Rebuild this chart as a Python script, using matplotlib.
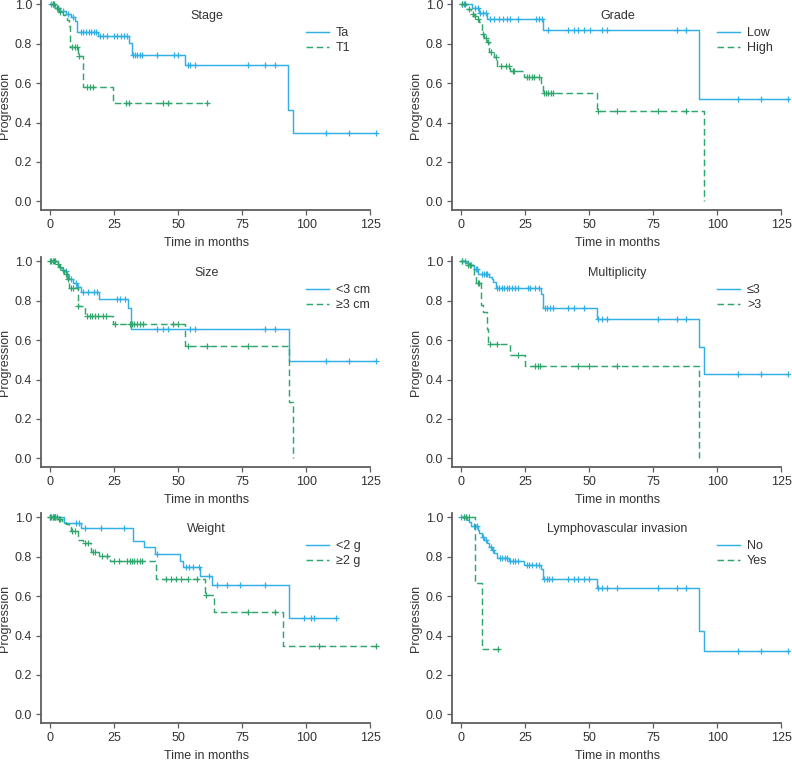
import numpy as np
import matplotlib
matplotlib.use('Agg')
import matplotlib.pyplot as plt
from matplotlib.lines import Line2D

plt.rcParams['font.family'] = ['Liberation Sans', 'DejaVu Sans']

# Kaplan-Meier style curves: event times, level after each event, censor times, last follow-up
stage_ta_t = [2, 4, 6, 8, 9.5, 10.5, 18.8, 30.6, 31.8, 52.8, 93, 95]
stage_ta_s = [0.98, 0.965, 0.95, 0.935, 0.915, 0.86, 0.84, 0.805, 0.745, 0.692, 0.462, 0.347]
stage_ta_c = [0.5, 1, 3, 5, 7, 9, 12, 13, 14, 15, 16, 17, 18, 19.5, 20.5, 22, 25, 26, 27.5,
              29, 30, 32.5, 33, 34, 35, 36, 41.7, 48.2, 50.1, 53.8, 54.7, 56.6, 77.1, 84, 88,
              107.8, 116.9, 127.3]
stage_ta_end = 127.3

stage_t1_t = [2, 3.5, 5, 6.5, 7.2, 7.8, 11, 13, 24.7]
stage_t1_s = [0.98, 0.96, 0.945, 0.92, 0.89, 0.785, 0.738, 0.58, 0.50]
stage_t1_c = [1, 1.5, 2.5, 3, 4, 8.5, 9.5, 10.5, 11.2, 14.3, 15.6, 16.7, 29.7, 30.7, 44, 46, 61.3]
stage_t1_end = 61.5

grade_low_t = [4.3, 7, 10, 32.1, 92.8]
grade_low_s = [0.98, 0.954, 0.926, 0.868, 0.521]
grade_low_c = [0.5, 1, 5.5, 6.5, 7.5, 8.5, 9.5, 11.3, 13, 14.9, 16.5, 17.9, 19.2, 22.1, 29.2,
               30.2, 31.4, 33.9, 41.9, 43.9, 45.8, 48, 50.2, 54.9, 57.1, 84.1, 88, 108, 117, 127.6]
grade_low_end = 127.6

grade_high_t = [2, 4, 5, 6, 7, 8, 9, 10, 11, 13, 14, 19, 24.7, 31.2, 31.8, 53, 94.8]
grade_high_s = [0.975, 0.95, 0.94, 0.925, 0.91, 0.848, 0.83, 0.81, 0.756, 0.734, 0.689, 0.663,
                0.631, 0.592, 0.548, 0.457, 0.0]
grade_high_c = [0.5, 1.5, 3, 4.5, 5.5, 6.5, 8.5, 9.5, 10.5, 11.5, 13.5, 15.6, 17.5, 18.6, 20.1,
                20.8, 25.7, 26.6, 27.6, 28.6, 30.5, 32.3, 33, 34, 35, 35.7, 53.6, 61, 77, 87.9]
grade_high_end = 94.8

size_small_t = [3, 4, 5, 6.5, 7.5, 9, 10.5, 12, 18.9, 30.3, 31.6, 93.1]
size_small_s = [0.98, 0.965, 0.95, 0.93, 0.91, 0.892, 0.87, 0.843, 0.811, 0.764, 0.655, 0.493]
size_small_c = [6, 8, 10, 11, 13, 14.6, 17, 18.2, 26, 27.3, 29.3, 41.9, 44, 46, 54.7, 56.6, 84,
                88, 107.8, 116.9, 127.3]
size_small_end = 127.3

size_large_t = [2.5, 3.5, 4.5, 5.5, 6.5, 7.5, 10.7, 13.5, 24.7, 52.7, 93.1, 95]
size_large_s = [0.985, 0.97, 0.955, 0.935, 0.91, 0.866, 0.775, 0.723, 0.682, 0.571, 0.287, 0.0]
size_large_c = [0, 0.5, 1, 1.5, 2, 3, 4, 5, 6, 7, 8, 9, 11, 14.3, 15.4, 16.5, 17.6, 18.6, 20.8,
                21.9, 25.2, 31, 31.9, 32.9, 33.9, 34.9, 36.2, 47.9, 50.1, 53.8, 61.2, 77.1]
size_large_end = 95

mult_low_t = [2, 3, 5, 6.5, 11, 12, 12.5, 13.6, 31.2, 31.8, 53, 92.8, 94.8]
mult_low_s = [0.99, 0.98, 0.963, 0.934, 0.92, 0.91, 0.895, 0.865, 0.833, 0.765, 0.706, 0.566, 0.426]
mult_low_c = [0.5, 1.5, 2.5, 4, 5.8, 6, 8, 9, 9.5, 10, 14, 14.9, 15.9, 16.9, 17.9, 18.8, 19.9,
              20.9, 22.1, 26, 27, 28.9, 30.2, 32.7, 33.7, 34.7, 35.7, 41.9, 43.9, 48, 53.6, 54.9,
              57.1, 77, 84.1, 88, 108, 117, 127.6]
mult_low_end = 127.6

mult_high_t = [2, 4.5, 5, 5.8, 7.8, 8.7, 10.1, 10.6, 19.2, 25, 92.8]
mult_high_s = [0.98, 0.96, 0.924, 0.892, 0.78, 0.742, 0.657, 0.578, 0.527, 0.468, 0.0]
mult_high_c = [0.5, 2.5, 3.5, 6.5, 7, 11.4, 14, 22.3, 28.9, 29.9, 30.8, 45.8, 50, 61]
mult_high_end = 92.8

weight_low_t = [5.2, 12.1, 32.2, 36.8, 40.8, 50.8, 51.8, 58.6, 63.3, 93.1]
weight_low_s = [0.973, 0.944, 0.88, 0.848, 0.814, 0.778, 0.746, 0.70, 0.655, 0.491]
weight_low_c = [0, 1, 2, 10, 11.3, 13.7, 19.8, 28.9, 41.7, 53, 54.3, 55.7, 58, 62.1, 65.1, 69,
                74, 84, 99, 102, 102.9, 111.6]
weight_low_end = 111.6

weight_high_t = [3, 4.5, 6, 7.5, 8, 10.8, 13, 15.9, 19, 23.5, 41.2, 60.5, 63.8, 91.1]
weight_high_s = [0.99, 0.98, 0.965, 0.95, 0.931, 0.885, 0.868, 0.826, 0.804, 0.778, 0.686, 0.606,
                 0.521, 0.345]
weight_high_c = [0, 0.5, 1, 1.5, 2, 2.5, 3.5, 4, 8.5, 9.5, 13.7, 14.6, 16.8, 17.6, 20.2, 22,
                 25.1, 27, 30, 31, 31.9, 32.9, 33.9, 34.9, 35.8, 45.3, 47.3, 49.2, 51.2, 53.8,
                 57.3, 61, 77.1, 88, 105, 127.3]
weight_high_end = 127.3

lvi_no_t = [2.3, 3, 3.9, 6.5, 7, 8, 9, 10, 11, 12, 13, 14, 18.6, 24.7, 31.2, 31.8, 53, 92.8, 94.8]
lvi_no_s = [0.985, 0.975, 0.956, 0.935, 0.92, 0.898, 0.885, 0.871, 0.848, 0.835, 0.82, 0.795,
            0.778, 0.76, 0.736, 0.685, 0.64, 0.425, 0.32]
lvi_no_c = [0, 1, 2, 5, 6, 8.5, 9.5, 11.5, 12.5, 15, 16, 17, 18, 19.2, 20.1, 21, 22, 25.7, 26.6,
            27.6, 29.1, 30.2, 32.4, 33.4, 34.4, 35.4, 41.9, 43.9, 45.8, 48, 50, 53.6, 54.9, 57.1,
            60.7, 77, 84.1, 88, 108, 117, 127.6]
lvi_no_end = 127.6

lvi_yes_t = [5.2, 8.2]
lvi_yes_s = [0.667, 0.333]
lvi_yes_c = [1, 2, 3, 14.3]
lvi_yes_end = 14.5

titles = ['Stage', 'Grade', 'Size', 'Multiplicity', 'Weight', 'Lymphovascular invasion']
legend_labels = [('Ta', 'T1'), ('Low', 'High'), ('<3 cm', '\u22653 cm'),
                 ('\u22643', '>3'), ('<2 g', '\u22652 g'), ('No', 'Yes')]
curves = [
    ((stage_ta_t, stage_ta_s, stage_ta_c, stage_ta_end),
     (stage_t1_t, stage_t1_s, stage_t1_c, stage_t1_end)),
    ((grade_low_t, grade_low_s, grade_low_c, grade_low_end),
     (grade_high_t, grade_high_s, grade_high_c, grade_high_end)),
    ((size_small_t, size_small_s, size_small_c, size_small_end),
     (size_large_t, size_large_s, size_large_c, size_large_end)),
    ((mult_low_t, mult_low_s, mult_low_c, mult_low_end),
     (mult_high_t, mult_high_s, mult_high_c, mult_high_end)),
    ((weight_low_t, weight_low_s, weight_low_c, weight_low_end),
     (weight_high_t, weight_high_s, weight_high_c, weight_high_end)),
    ((lvi_no_t, lvi_no_s, lvi_no_c, lvi_no_end),
     (lvi_yes_t, lvi_yes_s, lvi_yes_c, lvi_yes_end)),
]

BLUE = '#30b0e4'
GREEN = '#2fa66c'
AX_COL = '#5e5e5e'
TXT_COL = '#333333'
FS = 9

W, H = 792, 761
fig = plt.figure(figsize=(W / 100, H / 100), dpi=100)

x_lo, x_hi = -3.6, 128.5
y_lo, y_hi = -0.045, 1.02
ax_w = (x_hi - x_lo) * 2.56
ax_h = (y_hi - y_lo) * 197
lefts = [41, 452]
tops = [0.4, 257.4, 513.4]


def km_steps(t, s, end):
    xs = [0] + list(t)
    ys = [1.0] + list(s)
    if end > xs[-1]:
        xs.append(end)
        ys.append(ys[-1])
    return xs, ys


def level_at(t, s, when):
    idx = np.searchsorted(np.array(t), np.array(when), side='right')
    levels = np.concatenate([[1.0], s])
    return levels[idx]


for i, (title, labels, pair) in enumerate(zip(titles, legend_labels, curves)):
    row, col = divmod(i, 2)
    left, top = lefts[col], tops[row]
    ax = fig.add_axes([left / W, 1 - (top + ax_h) / H, ax_w / W, ax_h / H])

    for (t, s, c, end), color, ls in zip(pair, [BLUE, GREEN], ['-', '--']):
        xs, ys = km_steps(t, s, end)
        line, = ax.step(xs, ys, where='post', color=color, lw=1.05, ls=ls)
        if ls == '--':
            line.set_dashes((4.5, 2.5))
        ax.plot(c, level_at(t, s, c), ls='none', marker='+', ms=5, mew=0.9, color=color)

    ax.set_xlim(x_lo, x_hi)
    ax.set_ylim(y_lo, y_hi)
    ax.set_xticks([0, 25, 50, 75, 100, 125])
    ax.set_yticks([0.0, 0.2, 0.4, 0.6, 0.8, 1.0])
    ax.yaxis.set_major_formatter(plt.FormatStrFormatter('%.1f'))
    for side in ['top', 'right']:
        ax.spines[side].set_visible(False)
    for side in ['left', 'bottom']:
        ax.spines[side].set_color(AX_COL)
        ax.spines[side].set_linewidth(1.3)
    ax.spines['bottom'].set_bounds(x_lo, 125)
    ax.tick_params(direction='out', length=3.5, width=0.9, color=AX_COL,
                   labelcolor=TXT_COL, labelsize=FS, pad=3)
    ax.patch.set_visible(False)

    ax.set_ylabel('Progression', fontsize=FS, color=TXT_COL, va='center')
    ax.yaxis.set_label_coords(-36 / ax_w, 0.5)
    ax.set_xlabel('Time in months', fontsize=FS, color=TXT_COL, va='center')
    ax.xaxis.set_label_coords((61 - x_lo) / (x_hi - x_lo), -33 / ax_h)

    ax.text(61, 0.94, title, ha='center', va='center', fontsize=FS, color=TXT_COL)

    handles = [Line2D([], [], color=BLUE, lw=1.05),
               Line2D([], [], color=GREEN, lw=1.05, dashes=(4.5, 2.5))]
    leg = ax.legend(handles, labels, loc='upper left', bbox_to_anchor=(0.784, 0.871),
                    frameon=False, fontsize=FS, handlelength=1.85, handletextpad=0.55,
                    labelspacing=0.2, borderpad=0, borderaxespad=0)
    for txt in leg.get_texts():
        txt.set_color(TXT_COL)

fig.savefig('out.png', dpi=100)
